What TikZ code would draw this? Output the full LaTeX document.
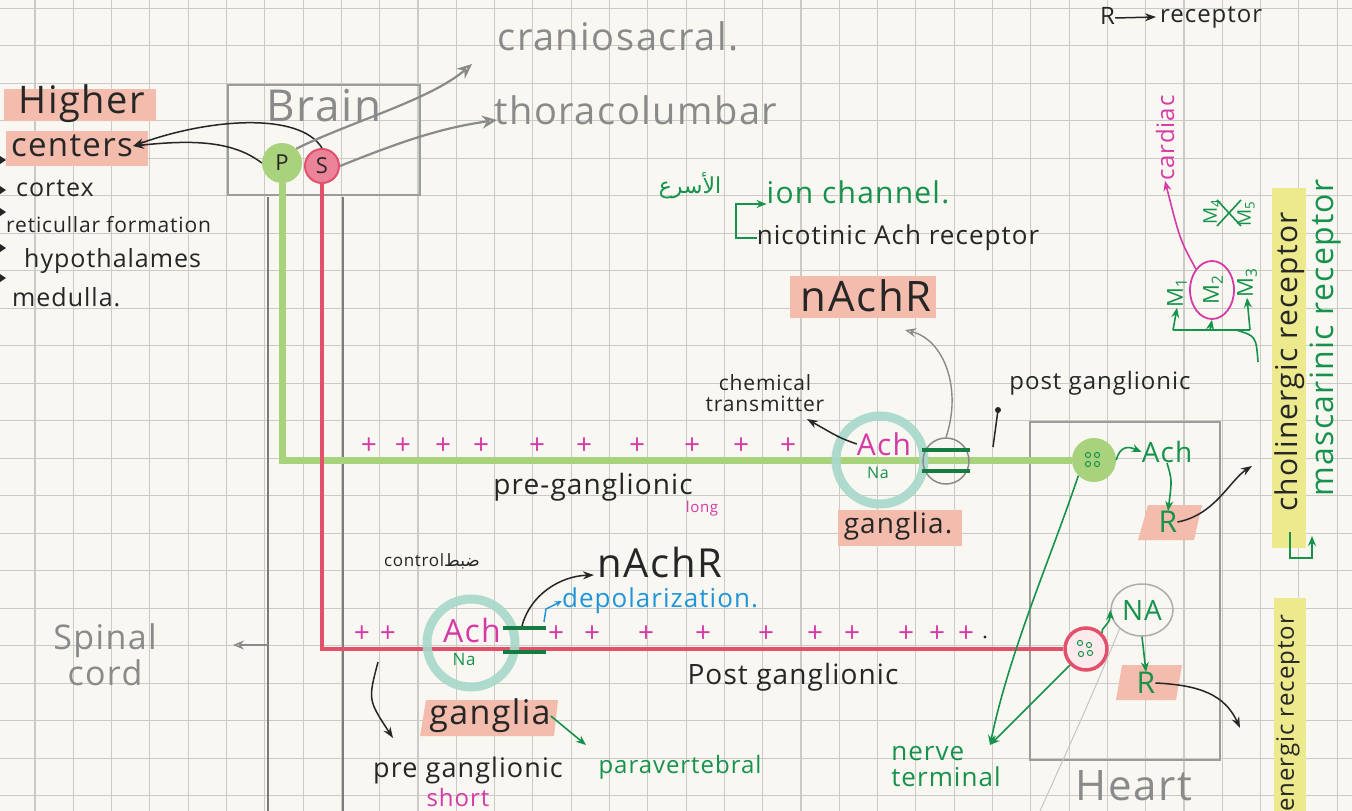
\documentclass[tikz,border=0pt]{standalone}
\usepackage{fontspec}
\setmainfont{Open Sans}[LetterSpace=4]
\newfontfamily\arabicfont[Script=Arabic]{DejaVu Sans}
\TeXXeTstate=1
\usetikzlibrary{arrows.meta,positioning,shapes.geometric}

\definecolor{paper}{HTML}{F8F7F2}
\definecolor{gridc}{HTML}{CBCBC6}
\definecolor{pencil}{HTML}{8A8A8A}
\definecolor{inkblack}{HTML}{262626}
\definecolor{inkgreen}{HTML}{17924C}
\definecolor{inkmag}{HTML}{D63AA6}
\definecolor{inkblue}{HTML}{2096D8}
\definecolor{hlgreen}{HTML}{A9D27C}
\definecolor{hlred}{HTML}{E2506C}
\definecolor{hlteal}{HTML}{A8D8CB}
\definecolor{hlsalmon}{HTML}{F3BCAD}
\definecolor{hlyellow}{HTML}{EDEA8E}

\newcommand{\fsz}[1]{\fontsize{#1}{#1}\selectfont}

\begin{document}
\begin{tikzpicture}[x=1pt,y=-1pt,
    txt/.style={inner sep=0pt, text=inkblack},
    pencil txt/.style={inner sep=0pt, text=pencil},
    green txt/.style={inner sep=0pt, text=inkgreen},
    mag txt/.style={inner sep=0pt, text=inkmag},
    gridline/.style={draw=gridc, line width=1.1pt},
    pencilbox/.style={draw=pencil!85, line width=2.5pt},
    cordline/.style={draw=pencil!90!black, line width=2.2pt},
    greenaxon/.style={draw=hlgreen, line width=7pt},
    redaxon/.style={draw=hlred, line width=4pt},
    teal ring/.style={circle, draw=hlteal, line width=9pt, inner sep=0pt, minimum size=#1, opacity=.9},
    chanbar/.style={draw=inkgreen!85!black, line width=3.5pt},
    plussign/.style={inner sep=0pt, text=inkmag, font=\fsz{28}},
    ink/.style={draw=inkblack, line width=1.5pt},
    inkarrow/.style={ink, -{Stealth[length=11pt,width=8pt]}},
    greenink/.style={draw=inkgreen, line width=1.6pt},
    greenarrow/.style={greenink, -{Stealth[length=10pt,width=8pt]}},
    magarrow/.style={draw=inkmag, line width=1.6pt, -{Stealth[length=10pt,width=8pt]}},
    bluearrow/.style={draw=inkblue, line width=1.5pt, -{Stealth[length=7pt,width=6pt]}},
    pencilarrow/.style={draw=pencil, line width=2.2pt, -{Stealth[length=15pt,width=13pt,open]}},
    pencilarrow thin/.style={draw=pencil, line width=1.4pt, -{Stealth[length=11pt,width=9pt,open]}},
  ]
    % paper and grid
    \fill[paper] (0,0) rectangle (1352,811);
    \useasboundingbox (0,0) rectangle (1352,811);
    \foreach \k in {-1,...,34} \draw[gridline] ({35+38.3*\k},0) -- ({35+38.3*\k},811);
    \foreach \k in {0,...,21} \draw[gridline] (0,{8.3+37.5*\k}) -- (1352,{8.3+37.5*\k});

    % brain and spinal cord
    \draw[pencilbox] (228,85) rectangle (420,195);
    \node[pencil txt, font=\fsz{44}] (brain) at (324,106) {Brain};
    \draw[cordline] (268,197) -- (268,811);
    \draw[cordline] (343,197) -- (343,811);

    % higher centers
    \fill[hlsalmon] (4,89) rectangle (156,121);
    \fill[hlsalmon] (6,131) rectangle (148,166);
    \node[txt, font=\fsz{38}] (higher) at (82,104) {Higher};
    \node[txt, font=\fsz{33}] (centers) at (72,146) {centers};
    \node[txt, font=\fsz{25}, anchor=west] (cortex) at (16,188) {cortex};
    \node[txt, font=\fsz{21}, anchor=west] (retic) at (6,225) {reticullar formation};
    \node[txt, font=\fsz{25}, anchor=west] (hypo) at (24,261) {hypothalames};
    \node[txt, font=\fsz{25}, anchor=west] (medulla) at (12,297) {medulla.};
    \foreach \by in {160,190,212,248,278} \fill[inkblack] (0,{\by-4}) -- (6,\by) -- (0,{\by+4}) -- cycle;

    % P and S
    \node[circle, fill=hlgreen, minimum size=40pt, inner sep=0pt, text=inkblack, font=\fsz{22}] (P) at (282,163) {P};
    \node[circle, fill=hlred!70, draw=hlred, line width=2pt, minimum size=34pt, inner sep=0pt, text=inkblack, font=\fsz{22}] (S) at (322,166) {S};
    \draw[inkarrow] (S.north) .. controls (300,112) and (210,118) .. (centers.east);
    \draw[inkarrow] (P.west) .. controls (232,140) and (190,140) .. (centers.east);

    % craniosacral / thoracolumbar
    \node[pencil txt, font=\fsz{38}] (cranio) at (618,36) {craniosacral.};
    \node[pencil txt, font=\fsz{38}] (thoraco) at (636,110) {thoracolumbar};
    \coordinate (craniotip) at (472,64);
    \coordinate (thoracotip) at (497,120);
    \draw[pencilarrow] (P.north east) .. controls (350,122) and (430,100) .. (craniotip);
    \draw[pencilarrow] (S.east) .. controls (400,142) and (440,128) .. (thoracotip);

    % spinal cord label
    \node[pencil txt, font=\fsz{34}, align=center] (spinal) at (105,655) {Spinal\\[2pt]cord};
    \coordinate (cordwall) at (268,645);
    \coordinate (cordtip) at (233,645);
    \draw[pencilarrow thin] (cordwall) -- (cordtip);

    % heart
    \draw[pencilbox] (1030,422) rectangle (1220,760);
    \node[pencil txt, font=\fsz{42}] (heart) at (1134,786) {Heart};
    \node[circle, fill=hlgreen, minimum size=44pt, inner sep=0pt] (gheart) at (1094,460) {};
    \node[circle, draw=hlred, line width=3.5pt, fill=hlred!12, minimum size=42pt, inner sep=0pt] (rheart) at (1086,649) {};

    % axons
    \coordinate (gcorner) at (282,460);
    \coordinate (rcorner) at (322,649);
    \draw[greenaxon] (P) -- (gcorner) -- (gheart);
    \draw[redaxon] (S) -- (rcorner) -- (rheart);
    \foreach \dx/\dy in {-6/-5,3/-5,-6/4,3/4}
        \draw[inkgreen, line width=1pt] ([shift={(\dx,\dy)}]gheart.center) circle (2.6);
    \foreach \dx/\dy in {-6/-6,3/-4,-5/5,4/4}
        \draw[inkgreen, line width=1pt] ([shift={(\dx,\dy)}]rheart.center) circle (2.6);

    % upper ganglion
    \node[teal ring=88pt] (gang1) at (880,460) {};
    \node[circle, draw=pencil, line width=1.5pt, minimum size=46pt, inner sep=0pt] (rec1) at (946,461) {};
    \draw[chanbar] (922,450) -- (970,450);
    \draw[chanbar] (922,471) -- (970,471);
    \node[mag txt, font=\fsz{30}] (ach1) at (884,444) {Ach};
    \node[green txt, font=\fsz{16}] (na1) at (878,473) {Na};
    \foreach \px in {369,403,443,481,537,584,637,692,741,788}
        \node[plussign] (pu\px) at (\px,446) {+};

    % upper labels
    \fill[hlsalmon] (790,276) rectangle (936,318);
    \node[txt, font=\fsz{42}] (nachr1) at (866,296) {nAchR};
    \node[txt, font=\fsz{26}] (nico) at (898,238) {nicotinic Ach receptor};
    \node[green txt, font=\fsz{30}] (ion) at (858,192) {ion channel.};
    \node[green txt, font=\fsz{22}] (fast) at (690,186) {\arabicfont\beginR الأسرع\endR};
    \coordinate (brk) at (736,204);
    \draw[greenarrow] (nico.west) -- (brk |- nico.west) -- (brk) -- (brk -| ion.west);
    \node[txt, font=\fsz{21}, align=center] (chem) at (765,393) {chemical\\transmitter};
    \coordinate (chemtip) at (807,419);
    \draw[inkarrow] (ach1.west) .. controls (840,438) .. (chemtip);
    \coordinate (nachrtip) at (905,330);
    \draw[pencilarrow thin] (rec1.north) .. controls (962,390) and (945,340) .. (nachrtip);
    \node[txt, font=\fsz{24}] (post1) at (1100,383) {post ganglionic};
    \coordinate (postlow) at (993,447);
    \coordinate (posttop) at (998,410);
    \draw[ink] (postlow) -- (posttop);
    \fill[inkblack] (posttop) circle (3);
    \node[txt, font=\fsz{28}] (pre1) at (593,487) {pre-ganglionic};
    \node[mag txt, font=\fsz{15}] (long) at (702,509) {long};
    \fill[hlsalmon] (838,510) rectangle (962,546);
    \node[txt, font=\fsz{28}] (ganglia1) at (898,526) {ganglia.};

    % lower ganglion
    \node[teal ring=88pt] (gang2) at (471,643) {};
    \draw[chanbar] (503,628) -- (546,628);
    \draw[chanbar] (503,652) -- (546,652);
    \node[mag txt, font=\fsz{32}] (ach2) at (472,630) {Ach};
    \node[green txt, font=\fsz{17}] (na2) at (464,660) {Na};
    \foreach \px in {362,388,556,592,646,703,766,815,852,906,937,966}
        \node[plussign] (pl\px) at (\px,634) {+};
    \fill[inkblack] (985,637) circle (1.6);

    % lower labels
    \node[txt, font=\fsz{17}] (control) at (432,561) {control\arabicfont\beginR ضبط\endR};
    \node[txt, font=\fsz{40}] (nachr2) at (660,562) {nAchR};
    \coordinate (barup) at (522,626);
    \coordinate (nachrtip2) at (594,575);
    \draw[inkarrow] (barup) .. controls (530,595) and (560,576) .. (nachrtip2);
    \node[inner sep=0pt, text=inkblue, font=\fsz{26}] (dep) at (660,601) {depolarization.};
    \coordinate (depfoot) at (544,622);
    \draw[bluearrow] (depfoot) -- (546,609) -- (dep.west);
    \node[txt, font=\fsz{28}] (post2) at (793,677) {Post ganglionic};
    \fill[hlsalmon] (426,700) -- (558,700) -- (554,736) -- (420,736) -- cycle;
    \node[txt, font=\fsz{34}] (ganglia2) at (490,716) {ganglia};
    \node[txt, font=\fsz{27}] (pre2) at (468,770) {pre ganglionic};
    \node[mag txt, font=\fsz{24}] (short) at (458,797) {short};
    \node[green txt, font=\fsz{24}] (para) at (680,767) {paravertebral};
    \coordinate (pretop) at (378,662);
    \coordinate (pretip) at (393,738);
    \draw[inkarrow] (pretop) .. controls (368,700) .. (pretip);
    \coordinate (paratip) at (586,745);
    \draw[greenarrow] (ganglia2.east) -- (paratip);

    % inside the heart
    \node[green txt, font=\fsz{28}] (achH) at (1167,452) {Ach};
    \fill[hlsalmon] (1148,505) -- (1202,505) -- (1194,540) -- (1138,540) -- cycle;
    \node[green txt, font=\fsz{30}] (rH1) at (1168,522) {R};
    \node[ellipse, draw=pencil!70, line width=1.5pt, minimum width=62pt, minimum height=52pt, inner sep=0pt, text=inkgreen, font=\fsz{28}] (NA) at (1142,610) {NA};
    \fill[hlsalmon] (1122,665) -- (1182,665) -- (1176,700) -- (1116,700) -- cycle;
    \node[green txt, font=\fsz{30}] (rH2) at (1146,683) {R};
    \draw[greenarrow] (gheart.east) .. controls (1120,446) and (1128,446) .. (achH.west);
    \draw[greenarrow] (achH.south) .. controls (1172,480) .. (rH1.north);
    \coordinate (rtip1) at (1252,466);
    \draw[inkarrow] (rH1.east) .. controls (1215,515) and (1230,480) .. (rtip1);
    \draw[greenarrow] (rheart.north east) .. controls (1100,628) and (1110,625) .. (NA.west);
    \draw[greenarrow] (NA.south) -- (rH2.north);
    \coordinate (rtip2) at (1240,728);
    \draw[inkarrow] (rH2.east) .. controls (1200,685) and (1225,695) .. (rtip2);
    \node[green txt, font=\fsz{26}, align=left] (nerve) at (946,767) {nerve\\terminal};
    \coordinate (ntip) at (990,745);
    \draw[greenarrow] (gheart.south west) .. controls (1050,560) and (1010,650) .. (ntip);
    \draw[greenarrow] (rheart.south west) -- (ntip);
    \coordinate (nalow) at (1040,811);
    \draw[pencil!50, line width=1pt] (NA.south west) .. controls (1090,700) .. (nalow);

    % muscarinic subtypes
    \node[mag txt, font=\fsz{24}, rotate=90] (cardiac) at (1165,138) {cardiac};
    \node[ellipse, draw=inkmag, line width=1.8pt, minimum width=44pt, minimum height=58pt, inner sep=0pt] (m2e) at (1212,290) {};
    \node[green txt, font=\fsz{22}, rotate=90] (m2) at (1213,290) {M\textsubscript{2}};
    \node[green txt, font=\fsz{22}, rotate=90] (m1) at (1177,293) {M\textsubscript{1}};
    \node[green txt, font=\fsz{22}, rotate=90] (m3) at (1247,283) {M\textsubscript{3}};
    \node[green txt, font=\fsz{19}, rotate=90] (m4) at (1212,212) {M\textsubscript{4}};
    \node[green txt, font=\fsz{19}, rotate=90] (m5) at (1246,214) {M\textsubscript{5}};
    \draw[greenink] (1217,200) -- (1241,226);
    \draw[greenink] (1217,226) -- (1241,200);
    \draw[magarrow] (m2e.north west) .. controls (1180,240) .. (cardiac.west);
    \coordinate (mb1) at (1173,330);
    \coordinate (mb2) at (1210,330);
    \coordinate (mb3) at (1250,330);
    \coordinate (mtail) at (1258,362);
    \draw[greenink] (mb1) -- (mb3);
    \draw[greenarrow] (mb1) -- (m1.west);
    \draw[greenarrow] (mb2) -- (m2e.south);
    \draw[greenarrow] (mb3) -- (m3.west);
    \draw[greenink] (1236,330) .. controls (1256,336) .. (mtail);

    % receptor names
    \fill[hlyellow] (1272,188) rectangle (1306,548);
    \node[txt, font=\fsz{30}, rotate=90] (chol) at (1290,362) {cholinergic receptor};
    \node[green txt, font=\fsz{32}, rotate=90] (masc) at (1326,338) {mascarinic receptor};
    \coordinate (cb1) at (1290,532);
    \coordinate (cb2) at (1290,558);
    \coordinate (cb3) at (1312,558);
    \coordinate (cb4) at (1312,536);
    \draw[greenarrow] (cb1) -- (cb2) -- (cb3) -- (cb4);
    \fill[hlyellow] (1274,598) rectangle (1306,811);
    \node[txt, font=\fsz{24}, rotate=90, anchor=west] (energic) at (1288,812) {energic receptor};

    % top right
    \node[txt, font=\fsz{24}, anchor=base west] (rtop) at (1100,24) {R};
    \node[txt, font=\fsz{24}, anchor=base west] (rectop) at (1160,23) {receptor};
    \draw[inkarrow] ([yshift=6pt]rtop.base east) -- ([yshift=6pt,xshift=-4pt]rectop.base west);
\end{tikzpicture}
\end{document}
